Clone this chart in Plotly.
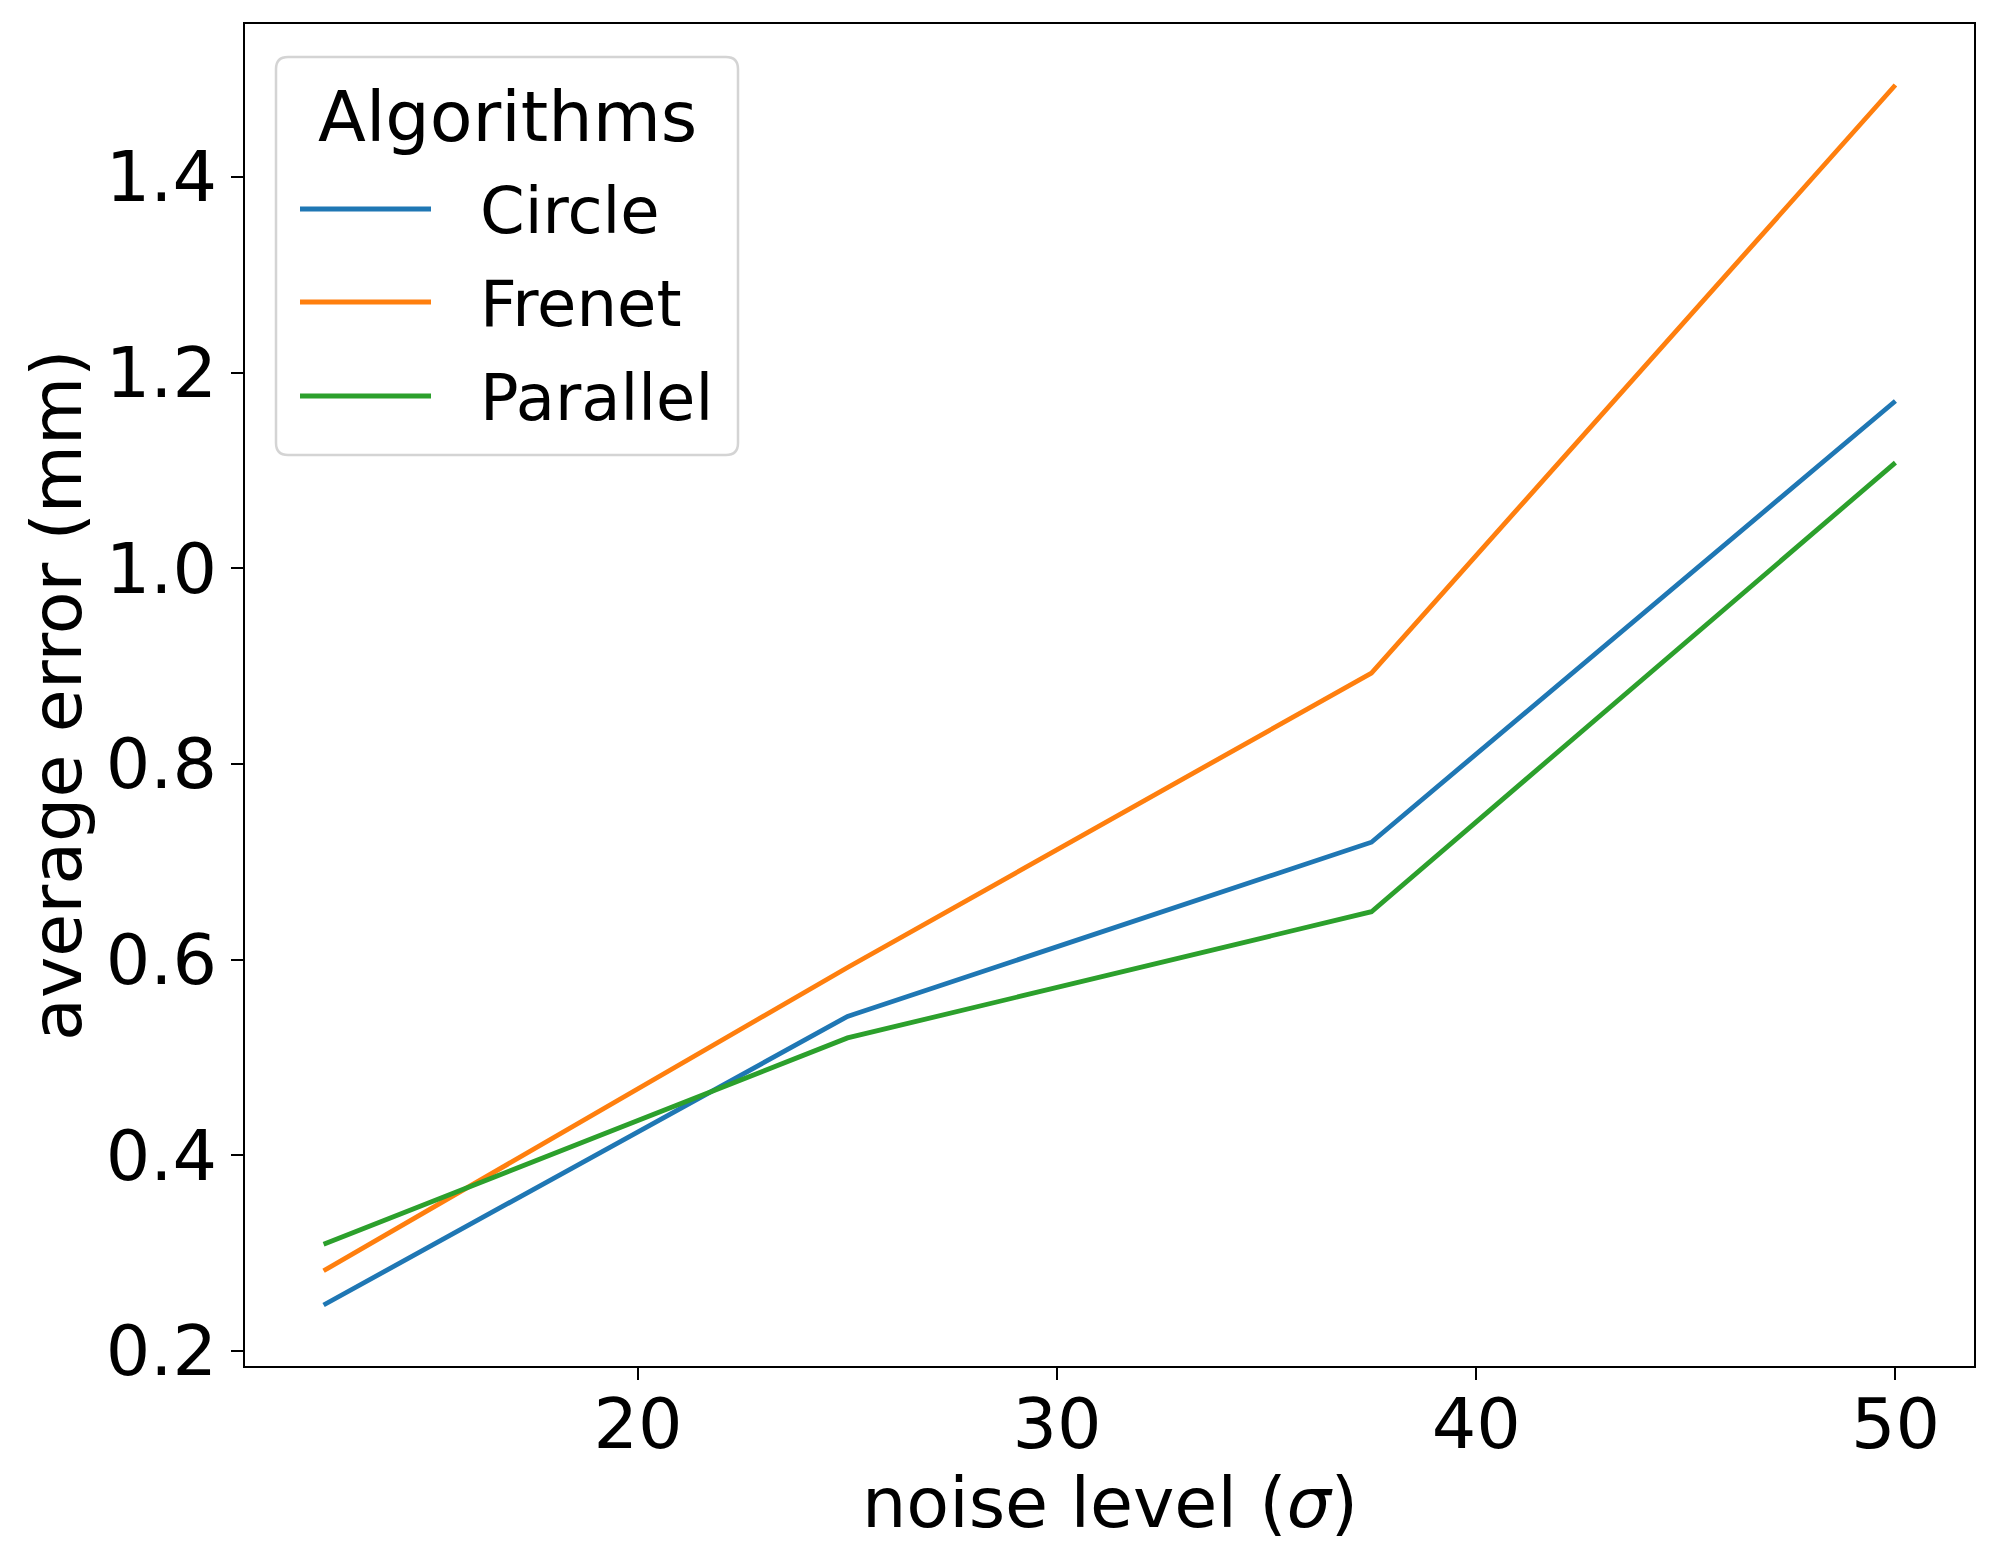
import plotly.graph_objects as go

# ---- data ----
noise_levels = [12.5, 25, 37.5, 50]
circle = [0.247, 0.542, 0.720, 1.171]
frenet = [0.282, 0.592, 0.893, 1.494]
parallel = [0.309, 0.520, 0.649, 1.108]
series_names = ["Circle", "Frenet", "Parallel"]
series_colors = ["#1f77b4", "#ff7f0e", "#2ca02c"]
x_ticks = [20, 30, 40, 50]
y_ticks = [0.2, 0.4, 0.6, 0.8, 1.0, 1.2, 1.4]
legend_title = "Algorithms"
x_title = "noise level (<i>σ</i>)"
y_title = "average error (mm)"

# ---- layout geometry (pixels) ----
W, H = 2000, 1567
L, R, T, B = 245, 1974, 24, 1366
FONT = "DejaVu Sans"

def px(x):
    return (x - L) / (R - L)

def py(y):
    return (B - y) / (B - T)

def pad_range(vals, frac=0.05):
    lo, hi = min(vals), max(vals)
    d = (hi - lo) * frac
    return [lo - d, hi + d]

all_y = circle + frenet + parallel
xr = pad_range(noise_levels)
yr = pad_range(all_y)

fig = go.Figure()
for name, vals, col in zip(series_names, [circle, frenet, parallel], series_colors):
    fig.add_trace(go.Scatter(x=noise_levels, y=vals, mode="lines", name=name,
                             line=dict(color=col, width=4.8), showlegend=False))

axis_common = dict(showline=True, linecolor="black", linewidth=2, mirror=True,
                   ticks="outside", ticklen=12, tickwidth=2, tickcolor="black",
                   showgrid=False, zeroline=False,
                   tickfont=dict(family=FONT, size=70, color="black"))

fig.update_xaxes(range=xr, tickvals=x_ticks, ticktext=[str(v) for v in x_ticks],
                 ticklabelstandoff=-16, **axis_common)
fig.update_yaxes(range=yr, tickvals=y_ticks, ticktext=[f"{v:.1f}" for v in y_ticks],
                 **axis_common)

shapes = []
annotations = []

# legend box (rounded rectangle)
bx0, bx1, by0, by1 = 276, 738, 57, 455
r = 12
rx = r / (R - L)
ry = r / (B - T)
X0, X1, Y0, Y1 = px(bx0), px(bx1), py(by1), py(by0)
path = (f"M {X0+rx},{Y0} L {X1-rx},{Y0} Q {X1},{Y0} {X1},{Y0+ry} "
        f"L {X1},{Y1-ry} Q {X1},{Y1} {X1-rx},{Y1} "
        f"L {X0+rx},{Y1} Q {X0},{Y1} {X0},{Y1-ry} "
        f"L {X0},{Y0+ry} Q {X0},{Y0} {X0+rx},{Y0} Z")
shapes.append(dict(type="path", xref="paper", yref="paper", path=path,
                   line=dict(color="#d4d4d4", width=2.5), fillcolor="white", layer="above"))

annotations.append(dict(text=legend_title, xref="paper", yref="paper",
                        x=px(507), y=py(117), xanchor="center", yanchor="middle",
                        showarrow=False, font=dict(family=FONT, size=70, color="black")))

row_y = [209, 302, 396]
for name, col, yy in zip(series_names, series_colors, row_y):
    shapes.append(dict(type="line", xref="paper", yref="paper",
                       x0=px(300), x1=px(431), y0=py(yy), y1=py(yy),
                       line=dict(color=col, width=4.8), layer="above"))
    annotations.append(dict(text=name, xref="paper", yref="paper",
                            x=px(478), y=py(yy + 2), xanchor="left", yanchor="middle",
                            showarrow=False, font=dict(family=FONT, size=64, color="black")))

# axis titles
annotations.append(dict(text=x_title, xref="paper", yref="paper",
                        x=0.5, y=py(1503), xanchor="center", yanchor="middle",
                        showarrow=False, font=dict(family=FONT, size=70, color="black")))
annotations.append(dict(text=y_title, xref="paper", yref="paper",
                        x=px(57), y=0.5, xanchor="center", yanchor="middle", textangle=-90,
                        showarrow=False, font=dict(family=FONT, size=70, color="black")))

fig.update_layout(width=W, height=H, margin=dict(l=L, r=W - R, t=T, b=H - B),
                  plot_bgcolor="white", paper_bgcolor="white",
                  shapes=shapes, annotations=annotations,
                  font=dict(family=FONT, color="black"))

fig.write_html("out.html", config={"displayModeBar": False},
               post_script="document.body.style.margin='0';document.body.style.overflow='hidden';")
